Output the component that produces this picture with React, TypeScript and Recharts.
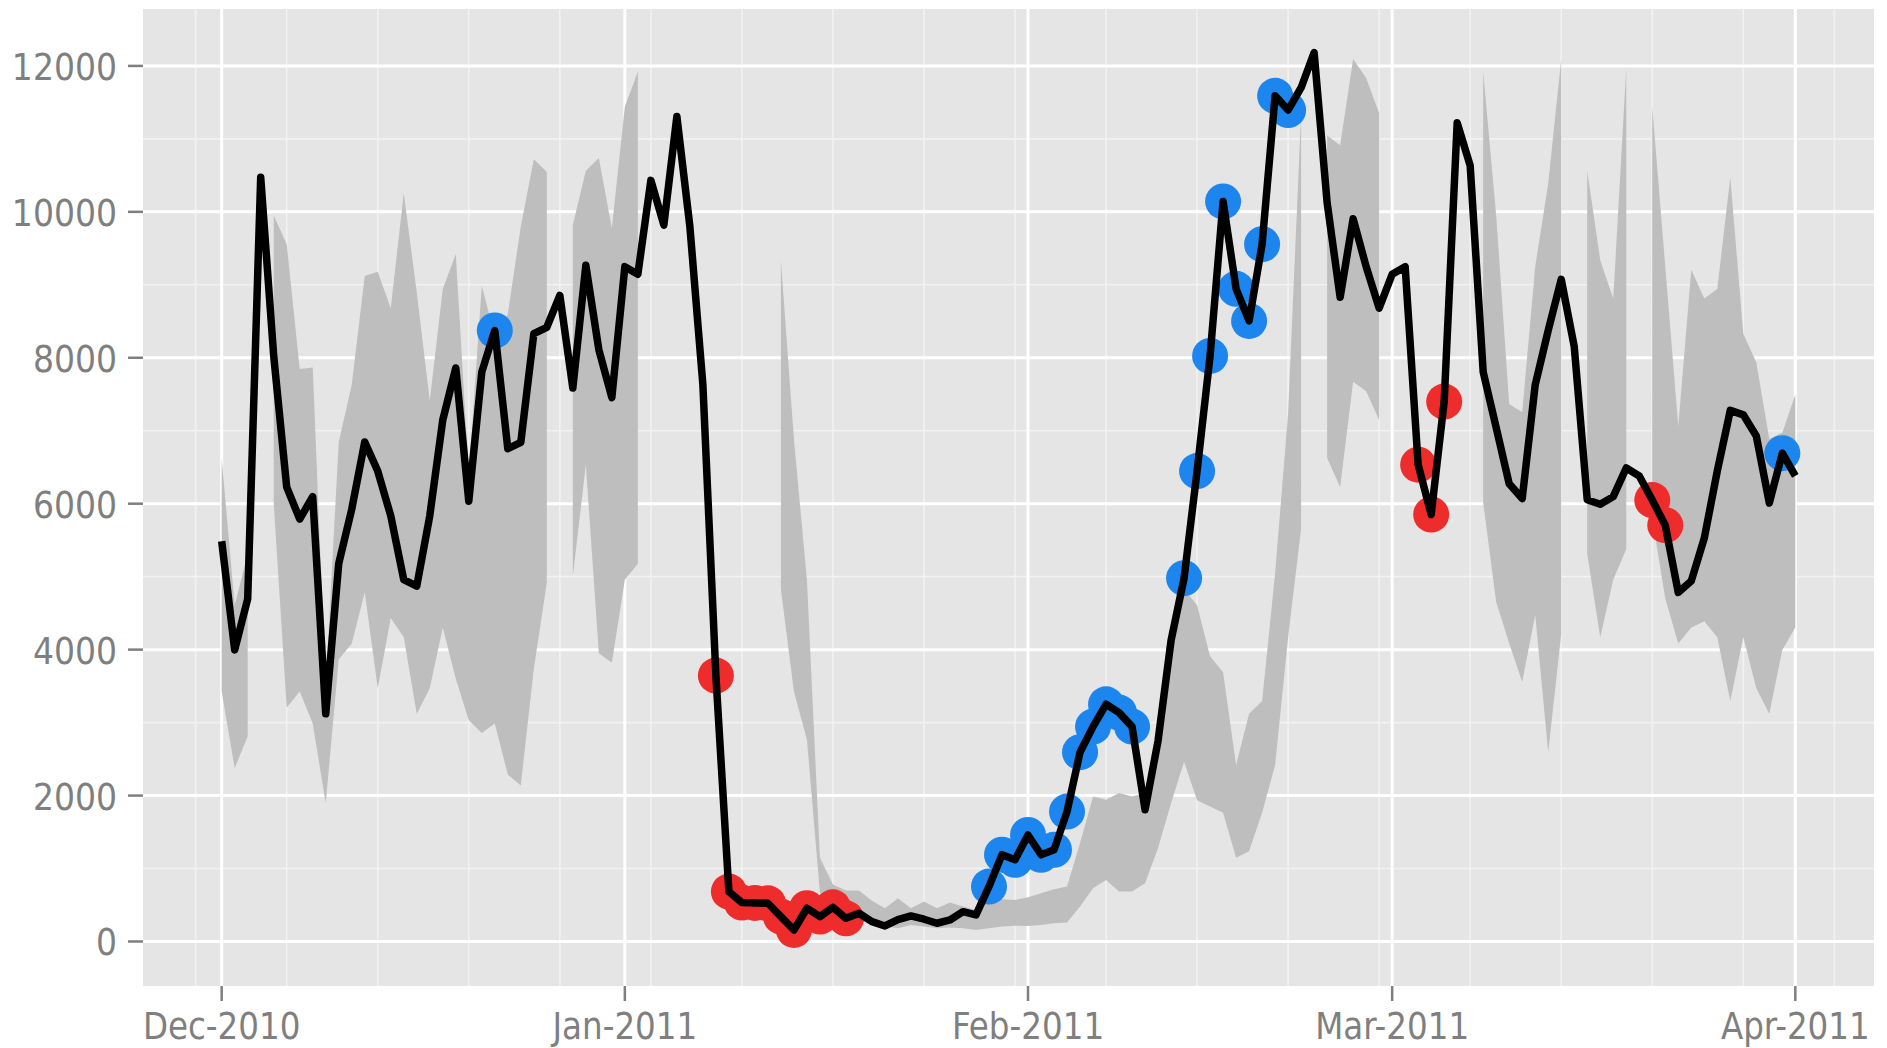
import { Area, CartesianGrid, ComposedChart, Line, Scatter, XAxis, YAxis } from 'recharts';

// x is the day index counted from 1 Dec 2010
const monthTicks = [0, 31, 62, 90, 121];
const monthLabels = ['Dec-2010', 'Jan-2011', 'Feb-2011', 'Mar-2011', 'Apr-2011'];
const weekTicks = [-2, 5, 12, 19, 26, 33, 40, 47, 54, 61, 68, 75, 82, 89, 96, 103, 110, 117, 124];
const yTicks = [0, 2000, 4000, 6000, 8000, 10000, 12000];
const yMinor = [1000, 3000, 5000, 7000, 9000, 11000];

const counts = [
  5485, 3996, 4696, 10475, 8025, 6227, 5790, 6097, 3120, 5178, 5924, 6845, 6447, 5834, 4958, 4871,
  5834, 7147, 7860, 6035, 7805, 8374, 6754, 6842, 8330, 8418, 8855, 7586, 9267, 8111, 7454, 9249,
  9145, 10431, 9819, 11307, 9800, 7630, 3645, 684, 533, 528, 524, 341, 158, 456, 341, 469,
  318, 387, 272, 213, 300, 350, 305, 250, 295, 409, 364, 753, 1190, 1120, 1460, 1188,
  1256, 1780, 2594, 2945, 3251, 3137, 2945, 1806, 2750, 4126, 4980, 6447, 8025, 10142, 8945, 8505,
  9556, 11590, 11395, 11701, 12183, 10125, 8829, 9906, 9249, 8680, 9145, 9249, 6534, 5852, 7400, 11220,
  10633, 7805, 7042, 6272, 6070, 7630, 8374, 9075, 8155, 6054, 5993, 6097, 6490, 6380, 6050, 5705,
  4784, 4941, 5527, 6447, 7279, 7218, 6929, 6010, 6693, 6380,
];

const bandHigh = [
  6624, 4608, 5309, null, 9950, 9556, 7847, 7866, 3500, 6843, 7630, 9121, 9180, 8680, 10256, 8899,
  7411, 8943, 9422, 6400, 8987, 8300, 8600, 9800, 10721, 10545, null, 9819, 10563, 10739, 9775, 11439,
  11921, null, null, null, null, null, null, null, null, null, null, 9333, 6886, 4958, 1149, 780,
  700, 700, 560, 456, 593, 456, 547, 456, 533, 478, 432, 547, 579, 570, 607, 662,
  717, 753, 1348, 1988, 1943, 2035, 1988, 2035, 2594, 4170, 4826, 4608, 3908, 3689, 2419, 3120,
  3295, 5046, 7236, 11351, null, 11046, 10913, 12096, 11833, 11350, null, null, null, null, null, null,
  null, 11921, 9950, 7367, 7253, 9249, 10388, 12096, null, 10563, 9337, 8812, 11964, null, 11439, 9250,
  7060, 9206, 8812, 8943, 10475, 8330, 7936, 6886, 6973, 7498,
];

const bandLow = [
  3426, 2375, 2813, null, 6010, 3206, 3426, 2988, 1893, 3865, 4084, 4784, 3470, 4434, 4170, 3120,
  3470, 4302, 3600, 3032, 2857, 2988, 2288, 2139, 3733, 4915, null, 5002, 6534, 3952, 3820, 4958,
  5178, null, null, null, null, null, null, null, null, null, null, 4826, 3426, 2770, 667, 450,
  380, 340, 280, 204, 181, 227, 204, 181, 192, 181, 158, 181, 204, 217, 213, 227,
  250, 259, 478, 730, 844, 684, 685, 799, 1281, 1893, 2464, 1937, 1850, 1763, 1149, 1237,
  1763, 2419, 4170, 5660, null, 6625, 6228, 7673, 7542, 7148, null, null, null, null, null, null,
  null, 6010, 4652, 4084, 3558, 4478, 2594, 4214, null, 5309, 4170, 4958, 5379, null, 5800, 4700,
  4084, 4302, 4390, 4170, 3295, 4170, 3470, 3120, 3996, 4302,
];

const highDays = [21, 59, 60, 61, 62, 63, 64, 65, 66, 67, 68, 69, 70, 74, 75, 76, 77, 78, 79, 80, 81, 82, 120];
const lowDays = [38, 39, 40, 41, 42, 43, 44, 45, 46, 47, 48, 92, 93, 94, 110, 111];

const rows = counts.map((v, i) => ({ day: i, count: v, band: [bandLow[i], bandHigh[i]] }));
const highPts = highDays.map((d) => ({ day: d, count: counts[d] }));
const lowPts = lowDays.map((d) => ({ day: d, count: counts[d] }));

const AXIS_TEXT = '#7f7f7f';

function XTick({ x, y, payload }: any) {
  const label = monthLabels[monthTicks.indexOf(payload.value)];
  return (
    <g transform={`translate(${x},${y})`}>
      <text transform="scale(0.88,1)" textAnchor="middle" y={38} fontSize={37} fill={AXIS_TEXT} fontFamily="DejaVu Sans">
        {label}
      </text>
    </g>
  );
}

function YTick({ x, y, payload }: any) {
  return (
    <g transform={`translate(${x},${y})`}>
      <text transform="scale(0.87,1)" textAnchor="end" y={14} fontSize={38} fill={AXIS_TEXT} fontFamily="DejaVu Sans">
        {payload.value}
      </text>
    </g>
  );
}

export default function App() {
  return (
    <div style={{ position: 'absolute', left: 0, top: 0, width: 1887, height: 1048, background: '#fff' }}>
      <ComposedChart width={1887} height={1048} data={rows} margin={{ top: 9, right: 13, bottom: 0, left: 0 }}>
        <CartesianGrid fill="#e5e5e5" stroke="#f2f2f2" strokeWidth={1.6} horizontalValues={yMinor} verticalValues={weekTicks} />
        <CartesianGrid stroke="#ffffff" strokeWidth={3} horizontalValues={yTicks} verticalValues={monthTicks} />
        <XAxis
          type="number"
          dataKey="day"
          domain={[-6.05, 127.05]}
          ticks={monthTicks}
          allowDataOverflow
          height={62}
          axisLine={false}
          tickSize={15}
          tickMargin={0}
          tickLine={{ stroke: AXIS_TEXT, strokeWidth: 2.5 }}
          tick={<XTick />}
        />
        <YAxis
          type="number"
          domain={[-610, 12780]}
          ticks={yTicks}
          allowDataOverflow
          width={143}
          axisLine={false}
          tickSize={15}
          tickMargin={11}
          tickLine={{ stroke: AXIS_TEXT, strokeWidth: 2.5 }}
          tick={<YTick />}
        />
        <Area
          type="linear"
          dataKey="band"
          stroke="none"
          fill="#bebebe"
          fillOpacity={1}
          connectNulls={false}
          isAnimationActive={false}
        />
        <Scatter
          data={highPts}
          dataKey="count"
          fill="#1c86ee"
          shape={(p: any) => <circle cx={p.cx} cy={p.cy} r={18} fill="#1c86ee" />}
          isAnimationActive={false}
          zIndex={450}
        />
        <Scatter
          data={lowPts}
          dataKey="count"
          fill="#ee2c2c"
          shape={(p: any) => <circle cx={p.cx} cy={p.cy} r={18} fill="#ee2c2c" />}
          isAnimationActive={false}
          zIndex={450}
        />
        <Line
          type="linear"
          dataKey="count"
          stroke="#000000"
          strokeWidth={7.5}
          strokeLinejoin="round"
          dot={false}
          activeDot={false}
          isAnimationActive={false}
          zIndex={500}
        />
      </ComposedChart>
    </div>
  );
}
